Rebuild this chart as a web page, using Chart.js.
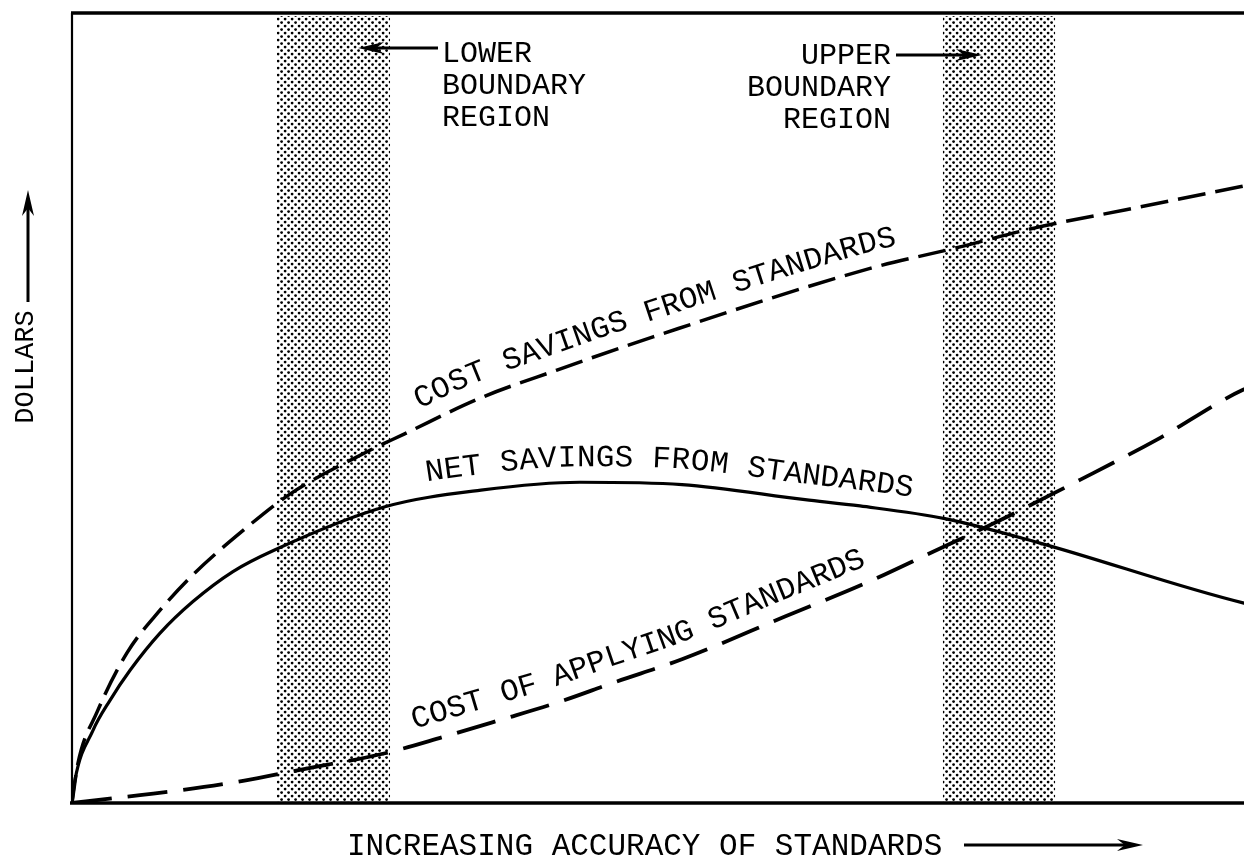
<!DOCTYPE html>
<html><head><meta charset="utf-8">
<script src="https://cdn.jsdelivr.net/npm/chart.js@4/dist/chart.umd.min.js"></script>
<style>html,body{margin:0;padding:0;background:#fff;overflow:hidden;width:1244px;height:867px}canvas{display:block}</style>
</head><body>
<canvas id="c" width="1262" height="867"></canvas>
<script>
// ---- Data (x: increasing accuracy of standards, y: dollars; arbitrary 0-100 units) ----
const costSavingsX = [0, 0.5, 2.12, 4.66, 7.46, 10.25, 14.58, 18.47, 24.92, 28.14, 34.66, 41.10, 49.24, 67.71, 75.0, 81.61, 89.32, 98.98, 100];
const costSavingsY = [0, 5.0, 11.5, 19.0, 24.4, 28.9, 34.6, 39.1, 44.4, 46.7, 51.3, 54.8, 59.0, 67.7, 70.3, 72.8, 75.1, 78.0, 78.3];

const netSavingsX = [0, 0.25, 1.78, 3.22, 4.92, 7.46, 10.25, 13.64, 17.12, 26.53, 34.66, 43.05, 51.69, 62.12, 66.78, 73.98, 82.03, 99.32, 100];
const netSavingsY = [0, 2.9, 9.2, 13.0, 16.8, 21.5, 25.5, 29.3, 32.0, 37.5, 39.6, 40.6, 40.3, 38.4, 37.6, 36.0, 32.9, 25.3, 25.1];

const costApplyX = [0, 3.47, 5.76, 9.41, 14.49, 19.32, 26.53, 31.44, 36.27, 41.10, 46.02, 51.69, 60.42, 67.37, 72.97, 78.39, 85.42, 91.95, 99.24, 100];
const costApplyY = [0, 0.6, 1.0, 1.65, 2.8, 4.2, 6.3, 8.35, 10.5, 12.7, 15.3, 18.2, 23.6, 27.9, 31.8, 35.6, 40.9, 46.0, 52.3, 52.7];

// boundary regions (x extents)
const bandStart = [17.37, 73.81];
const bandEnd   = [26.95, 83.31];

// texts
const curveLabels = ['COST SAVINGS FROM STANDARDS', 'NET SAVINGS FROM STANDARDS', 'COST OF APPLYING STANDARDS'];
const curveLabelStartX = [29.9, 30.1, 29.3];
const lowerLabel = ['LOWER', 'BOUNDARY', 'REGION'];
const upperLabel = ['UPPER', 'BOUNDARY', 'REGION'];
const xTitle = 'INCREASING ACCURACY OF STANDARDS';
const yTitle = 'DOLLARS';

const FONT = '"Liberation Mono","Courier New",monospace';
const INK = '#000';

function pts(xs, ys){ return xs.map((x,i)=>({x, y: ys[i]})); }

function makeDots(){
  const c = document.createElement('canvas'); c.width = 7; c.height = 7;
  const g = c.getContext('2d'); g.fillStyle = '#000';
  [[1.6,1.6],[5.1,5.1]].forEach(([x,y])=>{ g.beginPath(); g.arc(x,y,1.4,0,Math.PI*2); g.fill(); });
  return c;
}

const bandPlugin = {
  id: 'bands',
  beforeDatasetsDraw(chart){
    const {ctx, chartArea: a, scales: {x}} = chart;
    ctx.save();
    ctx.fillStyle = ctx.createPattern(makeDots(), 'repeat');
    for (let i = 0; i < bandStart.length; i++){
      const l = x.getPixelForValue(bandStart[i]), r = x.getPixelForValue(bandEnd[i]);
      ctx.fillRect(l, a.top + 3, r - l, a.bottom - a.top - 3);
    }
    ctx.restore();
  }
};

function sampleCurve(chart, di){
  const p = chart.getDatasetMeta(di).data;
  const out = [];
  for (let i = 0; i < p.length - 1; i++){
    const a = p[i], b = p[i+1];
    const c1x = a.cp2x ?? a.x, c1y = a.cp2y ?? a.y, c2x = b.cp1x ?? b.x, c2y = b.cp1y ?? b.y;
    for (let k = 0; k < 24; k++){
      const t = k/24, u = 1-t;
      out.push({
        x: u*u*u*a.x + 3*u*u*t*c1x + 3*u*t*t*c2x + t*t*t*b.x,
        y: u*u*u*a.y + 3*u*u*t*c1y + 3*u*t*t*c2y + t*t*t*b.y
      });
    }
  }
  out.push({x: p[p.length-1].x, y: p[p.length-1].y});
  const s = [0];
  for (let i = 1; i < out.length; i++) s.push(s[i-1] + Math.hypot(out[i].x-out[i-1].x, out[i].y-out[i-1].y));
  return {pts: out, s};
}
function at(c, sv){
  const {pts: p, s} = c;
  if (sv <= 0) return p[0];
  for (let i = 1; i < s.length; i++){
    if (s[i] >= sv){
      const t = (sv - s[i-1]) / ((s[i]-s[i-1]) || 1);
      return {x: p[i-1].x + t*(p[i].x-p[i-1].x), y: p[i-1].y + t*(p[i].y-p[i-1].y)};
    }
  }
  return p[p.length-1];
}
function textAlong(ctx, c, text, startPx, off){
  let i0 = c.pts.findIndex(q => q.x >= startPx);
  let sv = c.s[Math.max(0, i0)];
  ctx.textAlign = 'center'; ctx.textBaseline = 'alphabetic';
  for (const ch of text){
    const w = ctx.measureText(ch).width;
    const m = sv + w/2;
    const p = at(c, m), pa = at(c, m-14), pb = at(c, m+14);
    const ang = Math.atan2(pb.y-pa.y, pb.x-pa.x);
    const nx = Math.sin(ang), ny = -Math.cos(ang);
    ctx.save(); ctx.translate(p.x + nx*off, p.y + ny*off); ctx.rotate(ang);
    ctx.fillText(ch, 0, 0); ctx.restore();
    sv += w;
  }
}
function arrow(ctx, x1, y1, x2, y2){
  const ang = Math.atan2(y2-y1, x2-x1), L = 26, W = 6;
  const bx = x2 - Math.cos(ang)*L, by = y2 - Math.sin(ang)*L;
  ctx.beginPath(); ctx.moveTo(x1, y1); ctx.lineTo(bx + Math.cos(ang)*8, by + Math.sin(ang)*8); ctx.lineWidth = 3; ctx.stroke();
  ctx.beginPath(); ctx.moveTo(x2, y2);
  ctx.lineTo(bx - Math.sin(ang)*W, by + Math.cos(ang)*W);
  ctx.lineTo(x2 - Math.cos(ang)*L*0.7, y2 - Math.sin(ang)*L*0.7);
  ctx.lineTo(bx + Math.sin(ang)*W, by - Math.cos(ang)*W);
  ctx.closePath(); ctx.fill();
}

const decoPlugin = {
  id: 'deco',
  afterDraw(chart){
    const {ctx, chartArea: a} = chart;
    ctx.save();
    ctx.strokeStyle = INK; ctx.fillStyle = INK; ctx.lineCap = 'butt';
    // frame
    ctx.lineWidth = 3.5; ctx.beginPath(); ctx.moveTo(a.left - 1, a.top); ctx.lineTo(a.right + 20, a.top); ctx.stroke();
    ctx.lineWidth = 2.2; ctx.beginPath(); ctx.moveTo(a.left, a.top); ctx.lineTo(a.left, a.bottom); ctx.stroke();
    ctx.lineWidth = 3.5; ctx.beginPath(); ctx.moveTo(a.left - 2, a.bottom); ctx.lineTo(a.right + 20, a.bottom); ctx.stroke();

    // curve labels
    ctx.font = `31px ${FONT}`;
    const xs = chart.scales.x;
    for (let i = 0; i < curveLabels.length; i++){
      const c = sampleCurve(chart, i);
      textAlong(ctx, c, curveLabels[i], xs.getPixelForValue(curveLabelStartX[i]), 16);
    }

    // boundary labels
    ctx.font = `30px ${FONT}`;
    ctx.textBaseline = 'alphabetic';
    ctx.textAlign = 'left';
    [62, 94, 126].forEach((y, i) => ctx.fillText(lowerLabel[i], 442, y));
    ctx.textAlign = 'right';
    [64, 96, 128].forEach((y, i) => ctx.fillText(upperLabel[i], 891, y));
    arrow(ctx, 438, 48, 358, 48);
    arrow(ctx, 896, 55, 982, 55);

    // axis titles
    ctx.font = `31px ${FONT}`;
    ctx.textAlign = 'left';
    ctx.fillText(xTitle, 347, 855);
    arrow(ctx, 964, 845, 1143, 845);

    ctx.save(); ctx.font = `27px ${FONT}`;
    ctx.translate(33, 367); ctx.rotate(-Math.PI/2); ctx.textAlign = 'center';
    ctx.fillText(yTitle, 0, 0); ctx.restore();
    arrow(ctx, 28, 302, 28, 190);
    ctx.restore();
  }
};

new Chart(document.getElementById('c'), {
  type: 'line',
  data: {
    datasets: [
      { label: 'Cost savings from standards', data: pts(costSavingsX, costSavingsY),
        borderColor: INK, borderWidth: 3.5, borderDash: [28, 10] },
      { label: 'Net savings from standards', data: pts(netSavingsX, netSavingsY),
        borderColor: INK, borderWidth: 3.2 },
      { label: 'Cost of applying standards', data: pts(costApplyX, costApplyY),
        borderColor: INK, borderWidth: 3.8, borderDash: [40, 16] }
    ]
  },
  options: {
    responsive: false, animation: false, events: [],
    layout: { padding: { left: 72, top: 13, right: 10, bottom: 64 } },
    elements: { point: { radius: 0 }, line: { cubicInterpolationMode: 'monotone', fill: false, borderCapStyle: 'butt' } },
    scales: {
      x: { type: 'linear', min: 0, max: 100, display: false },
      y: { type: 'linear', min: 0, max: 100, display: false }
    },
    plugins: { legend: { display: false }, tooltip: { enabled: false } }
  },
  plugins: [bandPlugin, decoPlugin]
});
</script>
</body></html>
